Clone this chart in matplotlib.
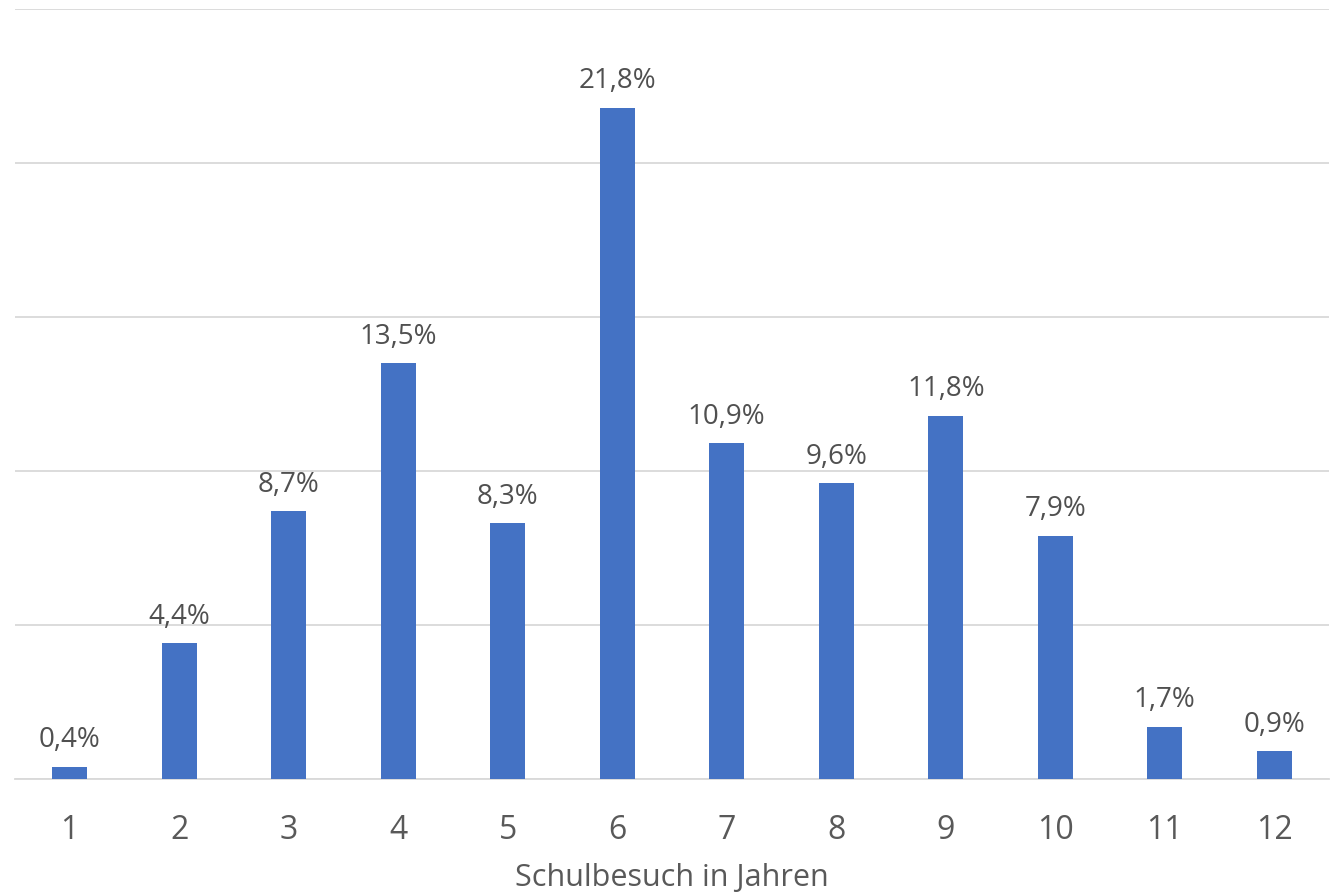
import matplotlib
matplotlib.use("Agg")
import matplotlib.pyplot as plt

categories = ["1", "2", "3", "4", "5", "6", "7", "8", "9", "10", "11", "12"]
values = [0.4, 4.4, 8.7, 13.5, 8.3, 21.8, 10.9, 9.6, 11.8, 7.9, 1.7, 0.9]
labels = ["0,4%", "4,4%", "8,7%", "13,5%", "8,3%", "21,8%", "10,9%", "9,6%", "11,8%", "7,9%", "1,7%", "0,9%"]
xlabel = "Schulbesuch in Jahren"

plt.rcParams['font.family'] = ['Open Sans', 'DejaVu Sans']

W, H = 1332, 893
fig = plt.figure(figsize=(W / 100, H / 100), dpi=100)
ax = fig.add_axes([15 / W, 1 - 779 / H, (1329 - 15) / W, (779 - 9) / H])

x = list(range(len(categories)))
bars = ax.bar(x, values, width=0.32, color="#4472C4", zorder=3)
ax.set_xlim(-0.5, len(categories) - 0.5)
ax.set_ylim(0, 25)
ax.set_yticks([0, 5, 10, 15, 20, 25])
ax.yaxis.grid(True, color="#d9d9d9", linewidth=1.3, zorder=0)
ax.tick_params(axis='y', left=False, labelleft=False)
ax.set_xticks(x)
ax.set_xticklabels(categories, fontsize=23, color="#595959")
ax.tick_params(axis='x', bottom=False, pad=22)
for s in ["top", "right", "left"]:
    ax.spines[s].set_visible(False)
ax.spines["bottom"].set_color("#d9d9d9")
ax.spines["bottom"].set_linewidth(1.3)

for xi, v, lab in zip(x, values, labels):
    ax.annotate(lab, (xi, v), xytext=(0, 9), textcoords="offset points",
                ha="center", va="bottom", fontsize=20, color="#505050")

ax.set_xlabel(xlabel, fontsize=22, color="#595959", labelpad=11)

fig.savefig("out.png", dpi=100)
